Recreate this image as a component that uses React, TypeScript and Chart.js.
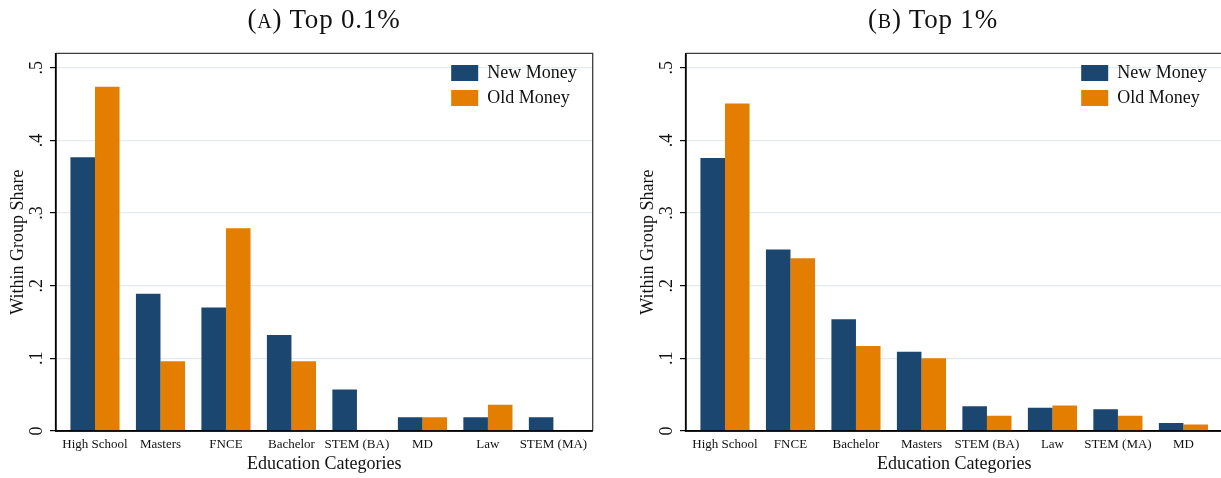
import React, { useEffect, useRef } from 'react';
import { Chart, registerables } from 'chart.js';

Chart.register(...registerables);

// ---------- data ----------
const CATEGORIES_A = ['High School', 'Masters', 'FNCE', 'Bachelor', 'STEM (BA)', 'MD', 'Law', 'STEM (MA)'];
const NEW_MONEY_A = [0.377, 0.189, 0.170, 0.132, 0.057, 0.019, 0.019, 0.019];
const OLD_MONEY_A = [0.474, 0.096, 0.279, 0.096, 0, 0.019, 0.036, 0];

const CATEGORIES_B = ['High School', 'FNCE', 'Bachelor', 'Masters', 'STEM (BA)', 'Law', 'STEM (MA)', 'MD'];
const NEW_MONEY_B = [0.376, 0.250, 0.154, 0.109, 0.034, 0.032, 0.030, 0.011];
const OLD_MONEY_B = [0.451, 0.238, 0.117, 0.100, 0.021, 0.035, 0.021, 0.009];

const Y_TICK_VALUES = [0, 0.1, 0.2, 0.3, 0.4, 0.5];
const Y_TICK_LABELS = ['0', '.1', '.2', '.3', '.4', '.5'];
const SERIES_LABELS = ['New Money', 'Old Money'];
const SERIES_COLORS = ['#1b4670', '#e37e00'];
const X_TITLE = 'Education Categories';
const Y_TITLE = 'Within Group Share';

const SERIF = '"Liberation Serif", "Times New Roman", Times, serif';

const framePlugin = {
  id: 'frameBox',
  afterDatasetsDraw(chart: any) {
    const { ctx, chartArea: a } = chart;
    ctx.save();
    ctx.lineWidth = 1.3;
    ctx.strokeStyle = '#3c3c3c';
    ctx.beginPath();
    ctx.moveTo(a.left, a.top);
    ctx.lineTo(a.right, a.top);
    ctx.lineTo(a.right, a.bottom);
    ctx.stroke();
    ctx.lineWidth = 1.6;
    ctx.strokeStyle = '#000';
    ctx.beginPath();
    ctx.moveTo(a.left, a.top);
    ctx.lineTo(a.left, a.bottom);
    ctx.lineTo(a.right, a.bottom);
    ctx.stroke();
    ctx.restore();
  },
};

const insideLegendPlugin = {
  id: 'insideLegend',
  afterDraw(chart: any) {
    const { ctx, chartArea: a } = chart;
    ctx.save();
    ctx.font = `18px ${SERIF}`;
    ctx.textBaseline = 'middle';
    ctx.textAlign = 'left';
    chart.data.datasets.forEach((ds: any, i: number) => {
      const x = a.right - 141.5;
      const y = a.top + 11.7 + i * 25;
      ctx.fillStyle = ds.backgroundColor;
      ctx.fillRect(x, y, 27, 16);
      ctx.fillStyle = '#111';
      ctx.fillText(ds.label, x + 36, y + 8.5);
    });
    ctx.restore();
  },
};

function makeConfig(categories: string[], newVals: number[], oldVals: number[]): any {
  const series = [newVals, oldVals];
  return {
    type: 'bar',
    data: {
      datasets: series.map((vals, s) => ({
        label: SERIES_LABELS[s],
        data: vals.map((v, i) => ({ x: i, y: v })),
        backgroundColor: SERIES_COLORS[s],
        borderWidth: 0,
        categoryPercentage: 0.75,
        barPercentage: 1,
      })),
    },
    options: {
      animation: false,
      responsive: false,
      maintainAspectRatio: false,
      layout: { padding: { left: 0, right: 17.3, top: 53.3, bottom: 0 } },
      plugins: {
        legend: { display: false },
        tooltip: { enabled: false },
        title: { display: false },
      },
      scales: {
        x: {
          type: 'linear',
          min: -0.6,
          max: 7.6,
          offset: false,
          bounds: 'data',
          afterBuildTicks: (s: any) => {
            s.ticks = categories.map((_, i) => ({ value: i }));
          },
          afterFit: (s: any) => {
            s.height = 47;
          },
          ticks: {
            callback: (_v: any, i: number) => categories[i],
            font: { family: SERIF, size: 13 },
            color: '#111',
            padding: 6,
            maxRotation: 0,
            minRotation: 0,
            autoSkip: false,
          },
          grid: { display: true, drawOnChartArea: false, drawTicks: false, offset: false },
          border: { display: true, color: '#000', width: 1.5 },
          title: {
            display: true,
            text: X_TITLE,
            font: { family: SERIF, size: 18 },
            color: '#111',
            padding: { top: 0, bottom: 3 },
          },
        },
        y: {
          min: 0,
          max: 0.52,
          bounds: 'data',
          afterBuildTicks: (s: any) => {
            s.ticks = Y_TICK_VALUES.map((v) => ({ value: v }));
          },
          afterFit: (s: any) => {
            s.width = 55.7;
          },
          ticks: {
            callback: (_v: any, i: number) => Y_TICK_LABELS[i],
            minRotation: 90,
            maxRotation: 90,
            crossAlign: 'center',
            padding: 6,
            font: { family: SERIF, size: 18 },
            color: '#111',
          },
          grid: {
            color: '#e3ebee',
            lineWidth: 1.2,
            tickLength: 5.7,
            tickColor: '#000',
            tickWidth: 1.2,
          },
          border: { display: true, color: '#000', width: 1.5 },
          title: {
            display: true,
            text: Y_TITLE,
            font: { family: SERIF, size: 18 },
            color: '#111',
            padding: { top: 7, bottom: 0 },
          },
        },
      },
    },
    plugins: [framePlugin, insideLegendPlugin],
  };
}

function BarPanel({ categories, newVals, oldVals }: { categories: string[]; newVals: number[]; oldVals: number[] }) {
  const ref = useRef<HTMLCanvasElement | null>(null);
  useEffect(() => {
    if (!ref.current) return;
    const chart = new Chart(ref.current, makeConfig(categories, newVals, oldVals));
    return () => chart.destroy();
  }, [categories, newVals, oldVals]);
  return <canvas ref={ref} width={610} height={478} style={{ display: 'block', width: 610, height: 478 }} />;
}

const titleStyle: React.CSSProperties = {
  position: 'absolute',
  top: 4,
  textAlign: 'center',
  fontFamily: SERIF,
  fontSize: 27,
  lineHeight: '30px',
  letterSpacing: '0.8px',
  color: '#111',
  whiteSpace: 'nowrap',
};

export default function App() {
  return (
    <div
      style={{
        position: 'absolute',
        left: 0,
        top: 0,
        width: 1221,
        height: 478,
        overflow: 'hidden',
        background: '#fff',
      }}
    >
      <div style={{ position: 'absolute', left: 0, top: 0, width: 610, height: 478 }}>
        <BarPanel categories={CATEGORIES_A} newVals={NEW_MONEY_A} oldVals={OLD_MONEY_A} />
      </div>
      <div style={{ position: 'absolute', left: 630, top: 0, width: 610, height: 478 }}>
        <BarPanel categories={CATEGORIES_B} newVals={NEW_MONEY_B} oldVals={OLD_MONEY_B} />
      </div>
      <div style={{ ...titleStyle, left: 24, width: 600 }}>
        (<span style={{ fontSize: 20 }}>A</span>) Top 0.1%
      </div>
      <div style={{ ...titleStyle, left: 633, width: 600 }}>
        (<span style={{ fontSize: 20 }}>B</span>) Top 1%
      </div>
    </div>
  );
}
